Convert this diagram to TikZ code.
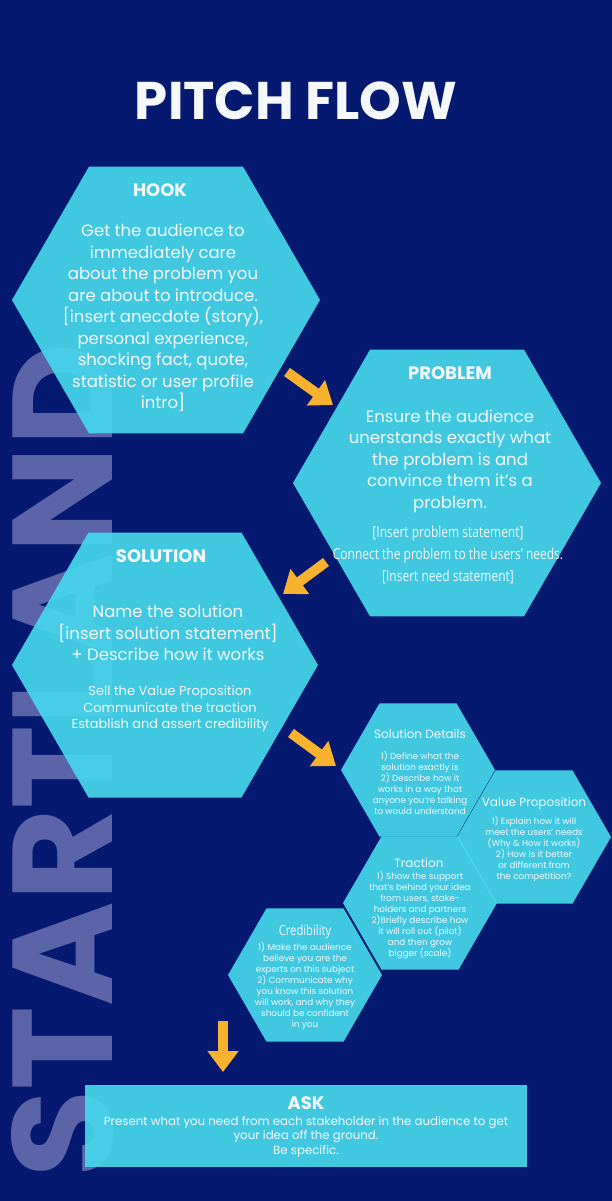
\documentclass[tikz,border=0pt]{standalone}
\usepackage{fontspec}
\setmainfont{Poppins}
\newfontfamily\condfont[FakeStretch=0.8]{Open Sans}
\usetikzlibrary{arrows.meta}
\definecolor{bgblue}{HTML}{04196F}
\definecolor{hexcyan}{HTML}{46D6EA}
\definecolor{wmark}{HTML}{5A64A6}
\definecolor{arrowc}{HTML}{F8B230}
\definecolor{txtw}{HTML}{F4F8FA}
\newcommand\hexpath[2]{\fill[hexfill] (#1) +(0:#2) -- +(60:#2) -- +(120:#2) -- +(180:#2) -- +(240:#2) -- +(300:#2) -- cycle;}
\begin{document}
\begin{tikzpicture}[x=1pt,y=-1pt,
  hexfill/.style={fill=hexcyan, fill opacity=0.93},
  txt/.style={text=txtw, align=center, inner sep=0pt},
  bigtitle/.style={txt, font=\bfseries\fontsize{18}{22}\selectfont},
  bigbody/.style={txt, font=\fontsize{16.5}{21.5}\selectfont},
  midbody/.style={txt, font=\fontsize{13}{16.5}\selectfont},
  condbody/.style={txt, font=\condfont\fontsize{15}{22}\selectfont},
  smalltitle/.style={txt, font=\fontsize{12}{14}\selectfont},
  smallbody/.style={txt, font=\fontsize{8.8}{10.9}\selectfont},
  flowarrow/.style={draw=arrowc, line width=10pt, -{Triangle[width=30pt,length=21pt]}}
]
\useasboundingbox (0,0) rectangle (612,1201);
\fill[bgblue] (0,0) rectangle (612,1201);
% watermark
\node[text=wmark, font=\bfseries\fontsize{142}{142}\selectfont, rotate=90, anchor=base west, inner sep=0pt] (wm) at (112,1178) {STARTLAND};
% title
\node[txt, font=\bfseries\fontsize{53}{60}\selectfont] (title) at (296,101) {PITCH FLOW};
% hexagon centres
\coordinate (hook) at (166,300);
\coordinate (prob) at (447,483);
\coordinate (sol) at (165,665);
\coordinate (sd) at (418,770);
\coordinate (vp) at (534,837);
\coordinate (tr) at (420,903);
\coordinate (cr) at (305,975);
\hexpath{hook}{154}
\hexpath{prob}{154}
\hexpath{sol}{153}
\hexpath{sd}{77}
\hexpath{vp}{77}
\hexpath{tr}{77}
\hexpath{cr}{77}
% ask box
\fill[hexfill] (85,1085) rectangle (527,1167);
\coordinate (ask) at (306,1126);
% HOOK
\node[bigtitle] (hookT) at (160,190) {HOOK};
\node[bigbody] (hookB) at (163,318) {Get the audience to\\immediately care\\about the problem you\\are about to introduce.\\{[}insert anecdote (story),\\personal experience,\\shocking fact, quote,\\statistic or user profile\\intro{]}};
% PROBLEM
\node[bigtitle] (probT) at (450,373) {PROBLEM};
\node[bigbody] (probB) at (450,461) {Ensure the audience\\unerstands exactly what\\the problem is and\\convince them it’s a\\problem.};
\node[condbody] (probS) at (448,555) {{[}Insert problem statement{]}\\Connect the problem to the users’ needs.\\{[}Insert need statement{]}};
% SOLUTION
\node[bigtitle] (solT) at (161,556) {SOLUTION};
\node[bigbody] (solB) at (168,633) {Name the solution\\{[}insert solution statement{]}\\+ Describe how it works};
\node[midbody] (solS) at (170,709) {Sell the Value Proposition\\Communicate the traction\\Establish and assert credibility};
% small hexagons
\node[smalltitle] (sdT) at (420,734) {Solution Details};
\node[smallbody] (sdB) at (420,783) {1) Define what the\\solution exactly is\\2) Describe how it\\works in a way that\\anyone you’re talking\\to would understand};
\node[smalltitle] (vpT) at (534,803) {Value Proposition};
\node[smallbody] (vpB) at (534,849) {1) Explain how it will\\meet the users’ needs\\(Why \& How it works)\\2) How is it better\\or different from\\the competition?};
\node[smalltitle] (trT) at (419,863) {Traction};
\node[smallbody] (trB) at (420,915) {1) Show the support\\that’s behind your idea\\from users, stake-\\holders and partners\\2)Briefly describe how\\it will roll out (pilot)\\and then grow\\bigger (scale)};
\node[txt, font=\condfont\fontsize{14}{16}\selectfont] (crT) at (305,932) {Credibility};
\node[smallbody] (crB) at (305,986) {1) Make the audience\\believe you are the\\experts on this subject\\2) Communicate why\\you know this solution\\will work, and why they\\should be confident\\in you};
% ASK
\node[bigtitle] (askT) at (306,1103) {ASK};
\node[txt, font=\fontsize{11.8}{14.5}\selectfont] (askB) at (306,1137) {Present what you need from each stakeholder in the audience to get\\your idea off the ground.\\Be specific.};
% arrows
\coordinate (a1s) at (287,372); \coordinate (a1e) at (333,405);
\coordinate (a2s) at (326,562); \coordinate (a2e) at (283,594);
\coordinate (a3s) at (291,733); \coordinate (a3e) at (336,766);
\coordinate (a4s) at (223,1021); \coordinate (a4e) at (223,1072);
\draw[flowarrow] (a1s) -- (a1e);
\draw[flowarrow] (a2s) -- (a2e);
\draw[flowarrow] (a3s) -- (a3e);
\draw[flowarrow] (a4s) -- (a4e);
\end{tikzpicture}
\end{document}
